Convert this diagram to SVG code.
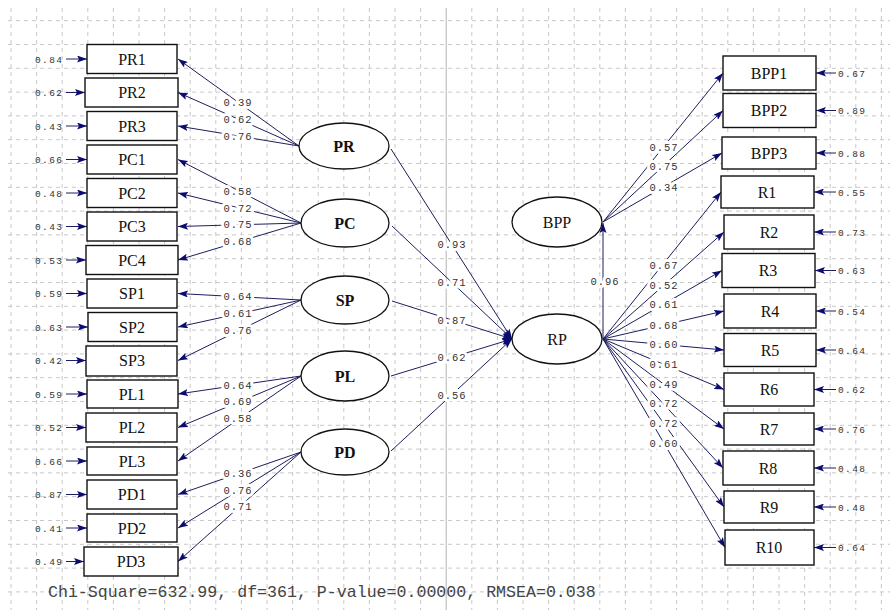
<svg xmlns="http://www.w3.org/2000/svg" width="894" height="613" viewBox="0 0 894 613">
<defs>
<marker id="ah" markerUnits="userSpaceOnUse" markerWidth="10" markerHeight="7" refX="10" refY="3.5" orient="auto">
<path d="M0,0 L10,3.5 L0,7 L2,3.5 z" fill="#0b0b70"/>
</marker>
<style>
.grid{fill:none;stroke:#c8c8c8;stroke-width:1;stroke-dasharray:4 4}
.axis{fill:none;stroke:#b4b4b4;stroke-width:1}
.box{fill:#fff;stroke:#111;stroke-width:1.4}
.lat{fill:#fff;stroke:#111;stroke-width:1.3}
.bt{font-family:"Liberation Serif","Times New Roman",serif;font-size:16px;fill:#111;text-anchor:middle}
.lt{font-family:"Liberation Serif","Times New Roman",serif;font-size:16px;fill:#111;text-anchor:middle}
.b{font-weight:bold}
.c{stroke:#1e1e5e;stroke-width:1;fill:none;marker-end:url(#ah)}
.v{font-family:"Liberation Mono","Courier New",monospace;font-size:10.5px;fill:#333;letter-spacing:1px;text-anchor:middle;stroke:#fff;stroke-width:6;paint-order:stroke;stroke-linejoin:round}
.e{font-family:"Liberation Mono","Courier New",monospace;font-size:9.5px;fill:#333;letter-spacing:1.4px}
.stat{font-family:"Liberation Mono","Courier New",monospace;font-size:16.6px;fill:#444}
</style>
</defs>
<rect width="894" height="613" fill="#fff"/>
<g id="grid">
<path class="grid" d="M8,20.7H890M8,44.5H890M8,68.3H890M8,92.1H890M8,115.9H890M8,139.7H890M8,163.5H890M8,187.3H890M8,211.1H890M8,234.9H890M8,258.7H890M8,282.5H890M8,306.3H890M8,330.1H890M8,353.9H890M8,377.7H890M8,401.5H890M8,425.3H890M8,449.1H890M8,472.9H890M8,496.7H890M8,520.5H890M8,544.3H890M8,568.1H890M8,591.9H890"/>
<path class="grid" d="M11,8V610M36.6,8V610M62.2,8V610M87.8,8V610M113.4,8V610M139,8V610M164.6,8V610M190.2,8V610M215.8,8V610M241.4,8V610M267,8V610M292.6,8V610M318.2,8V610M343.8,8V610M369.4,8V610M395,8V610M420.6,8V610M471.8,8V610M497.4,8V610M523,8V610M548.6,8V610M574.2,8V610M599.8,8V610M625.4,8V610M651,8V610M676.6,8V610M702.2,8V610M727.8,8V610M753.4,8V610M779,8V610M804.6,8V610M830.2,8V610M855.8,8V610M881.4,8V610"/>
<path class="axis" d="M446.2,8V610"/>
</g>
<g id="connectors">
<line class="c" x1="66" y1="59" x2="87" y2="59"/>
<line class="c" x1="66" y1="92.5" x2="85" y2="92.5"/>
<line class="c" x1="66" y1="126" x2="87" y2="126"/>
<line class="c" x1="66" y1="159.5" x2="87" y2="159.5"/>
<line class="c" x1="66" y1="193" x2="87" y2="193"/>
<line class="c" x1="66" y1="226.5" x2="87" y2="226.5"/>
<line class="c" x1="66" y1="260" x2="86" y2="260"/>
<line class="c" x1="66" y1="293.5" x2="87" y2="293.5"/>
<line class="c" x1="66" y1="327" x2="88" y2="327"/>
<line class="c" x1="66" y1="360.5" x2="86" y2="360.5"/>
<line class="c" x1="66" y1="394" x2="87" y2="394"/>
<line class="c" x1="66" y1="427.5" x2="86" y2="427.5"/>
<line class="c" x1="66" y1="461" x2="87" y2="461"/>
<line class="c" x1="66" y1="494.5" x2="87" y2="494.5"/>
<line class="c" x1="66" y1="528" x2="87" y2="528"/>
<line class="c" x1="66" y1="561.5" x2="84" y2="561.5"/>
<line class="c" x1="836" y1="73" x2="816" y2="73"/>
<line class="c" x1="836" y1="110.5" x2="816" y2="110.5"/>
<line class="c" x1="836" y1="153" x2="816" y2="153"/>
<line class="c" x1="836" y1="192" x2="814" y2="192"/>
<line class="c" x1="836" y1="232" x2="814" y2="232"/>
<line class="c" x1="836" y1="270.5" x2="815" y2="270.5"/>
<line class="c" x1="836" y1="311" x2="816" y2="311"/>
<line class="c" x1="836" y1="350" x2="816" y2="350"/>
<line class="c" x1="836" y1="389.5" x2="814" y2="389.5"/>
<line class="c" x1="836" y1="429" x2="814" y2="429"/>
<line class="c" x1="836" y1="468" x2="814" y2="468"/>
<line class="c" x1="836" y1="507" x2="814" y2="507"/>
<line class="c" x1="836" y1="547.5" x2="814" y2="547.5"/>
<line class="c" x1="299" y1="146" x2="178" y2="59"/>
<line class="c" x1="299" y1="146" x2="178" y2="92.5"/>
<line class="c" x1="299" y1="146" x2="178" y2="126"/>
<line class="c" x1="301" y1="223" x2="178" y2="159.5"/>
<line class="c" x1="301" y1="223" x2="178" y2="193"/>
<line class="c" x1="301" y1="223" x2="178" y2="226.5"/>
<line class="c" x1="301" y1="223" x2="178" y2="260"/>
<line class="c" x1="301" y1="300" x2="178" y2="293.5"/>
<line class="c" x1="301" y1="300" x2="178" y2="327"/>
<line class="c" x1="301" y1="300" x2="178" y2="360.5"/>
<line class="c" x1="301" y1="376" x2="178" y2="394"/>
<line class="c" x1="301" y1="376" x2="178" y2="427.5"/>
<line class="c" x1="301" y1="376" x2="178" y2="461"/>
<line class="c" x1="301" y1="452" x2="178" y2="494.5"/>
<line class="c" x1="301" y1="452" x2="178" y2="528"/>
<line class="c" x1="301" y1="452" x2="178" y2="561.5"/>
<line class="c" x1="391" y1="149" x2="512" y2="339"/>
<line class="c" x1="392" y1="226" x2="512" y2="339"/>
<line class="c" x1="392" y1="301" x2="512" y2="339"/>
<line class="c" x1="391" y1="376" x2="512" y2="339"/>
<line class="c" x1="391" y1="451" x2="512" y2="339"/>
<line class="c" x1="603" y1="339" x2="603" y2="223"/>
<line class="c" x1="603" y1="222" x2="723" y2="73"/>
<line class="c" x1="603" y1="222" x2="723" y2="110.5"/>
<line class="c" x1="603" y1="222" x2="722" y2="153"/>
<line class="c" x1="603" y1="339" x2="721" y2="192"/>
<line class="c" x1="603" y1="339" x2="724" y2="232"/>
<line class="c" x1="603" y1="339" x2="722" y2="270.5"/>
<line class="c" x1="603" y1="339" x2="724" y2="311"/>
<line class="c" x1="603" y1="339" x2="724" y2="350"/>
<line class="c" x1="603" y1="339" x2="724" y2="389.5"/>
<line class="c" x1="603" y1="339" x2="724" y2="429"/>
<line class="c" x1="603" y1="339" x2="723" y2="468"/>
<line class="c" x1="603" y1="339" x2="724" y2="507"/>
<line class="c" x1="603" y1="339" x2="725" y2="547.5"/>
<text class="v" x="238" y="106">0.39</text>
<text class="v" x="238" y="122.7">0.62</text>
<text class="v" x="238" y="139.5">0.76</text>
<text class="v" x="238" y="194.7">0.58</text>
<text class="v" x="238" y="211.5">0.72</text>
<text class="v" x="238" y="228.2">0.75</text>
<text class="v" x="238" y="245">0.68</text>
<text class="v" x="238" y="300.2">0.64</text>
<text class="v" x="238" y="317">0.61</text>
<text class="v" x="238" y="333.7">0.76</text>
<text class="v" x="238" y="388.5">0.64</text>
<text class="v" x="238" y="405.2">0.69</text>
<text class="v" x="238" y="422">0.58</text>
<text class="v" x="238" y="476.7">0.36</text>
<text class="v" x="238" y="493.5">0.76</text>
<text class="v" x="238" y="510.2">0.71</text>
<text class="v" x="452" y="247.5">0.93</text>
<text class="v" x="452" y="286">0.71</text>
<text class="v" x="452" y="323.5">0.87</text>
<text class="v" x="452" y="361">0.62</text>
<text class="v" x="452" y="398.5">0.56</text>
<text class="v" x="605" y="284.5">0.96</text>
<text class="v" x="664" y="151">0.57</text>
<text class="v" x="664" y="169.5">0.75</text>
<text class="v" x="664" y="191">0.34</text>
<text class="v" x="664" y="269">0.67</text>
<text class="v" x="664" y="289">0.52</text>
<text class="v" x="664" y="308.2">0.61</text>
<text class="v" x="664" y="328.5">0.68</text>
<text class="v" x="664" y="348">0.60</text>
<text class="v" x="664" y="367.7">0.61</text>
<text class="v" x="664" y="387.5">0.49</text>
<text class="v" x="664" y="407">0.72</text>
<text class="v" x="664" y="426.5">0.72</text>
<text class="v" x="664" y="446.7">0.60</text>
</g>
<g id="errors">
<text class="e" x="35" y="62.5">0.84</text>
<text class="e" x="35" y="96">0.62</text>
<text class="e" x="35" y="129.5">0.43</text>
<text class="e" x="35" y="163">0.66</text>
<text class="e" x="35" y="196.5">0.48</text>
<text class="e" x="35" y="230">0.43</text>
<text class="e" x="35" y="263.5">0.53</text>
<text class="e" x="35" y="297">0.59</text>
<text class="e" x="35" y="330.5">0.63</text>
<text class="e" x="35" y="364">0.42</text>
<text class="e" x="35" y="397.5">0.59</text>
<text class="e" x="35" y="431">0.52</text>
<text class="e" x="35" y="464.5">0.66</text>
<text class="e" x="35" y="498">0.87</text>
<text class="e" x="35" y="531.5">0.41</text>
<text class="e" x="35" y="565">0.49</text>
<text class="e" x="838" y="76.5">0.67</text>
<text class="e" x="838" y="114">0.89</text>
<text class="e" x="838" y="156.5">0.88</text>
<text class="e" x="838" y="195.5">0.55</text>
<text class="e" x="838" y="235.5">0.73</text>
<text class="e" x="838" y="274">0.63</text>
<text class="e" x="838" y="314.5">0.54</text>
<text class="e" x="838" y="353.5">0.64</text>
<text class="e" x="838" y="393">0.62</text>
<text class="e" x="838" y="432.5">0.76</text>
<text class="e" x="838" y="471.5">0.48</text>
<text class="e" x="838" y="510.5">0.48</text>
<text class="e" x="838" y="551">0.64</text>
</g>
<g id="PR1"><rect class="box" x="87" y="44.5" width="90" height="29"/><text class="bt" x="132" y="64.5">PR1</text></g>
<g id="PR2"><rect class="box" x="85" y="78" width="93" height="29"/><text class="bt" x="132" y="98">PR2</text></g>
<g id="PR3"><rect class="box" x="87" y="111.5" width="90" height="29"/><text class="bt" x="132" y="131.5">PR3</text></g>
<g id="PC1"><rect class="box" x="87" y="145" width="90" height="29"/><text class="bt" x="132" y="165">PC1</text></g>
<g id="PC2"><rect class="box" x="87" y="178.5" width="90" height="29"/><text class="bt" x="132" y="198.5">PC2</text></g>
<g id="PC3"><rect class="box" x="87" y="212" width="90" height="29"/><text class="bt" x="132" y="232">PC3</text></g>
<g id="PC4"><rect class="box" x="86" y="245.5" width="92" height="29"/><text class="bt" x="132" y="265.5">PC4</text></g>
<g id="SP1"><rect class="box" x="87" y="279" width="90" height="29"/><text class="bt" x="132" y="299">SP1</text></g>
<g id="SP2"><rect class="box" x="88" y="312.5" width="89" height="29"/><text class="bt" x="132" y="332.5">SP2</text></g>
<g id="SP3"><rect class="box" x="86" y="346" width="91" height="30"/><text class="bt" x="132" y="366">SP3</text></g>
<g id="PL1"><rect class="box" x="87" y="380" width="91" height="28"/><text class="bt" x="132" y="399.5">PL1</text></g>
<g id="PL2"><rect class="box" x="86" y="413" width="91" height="29"/><text class="bt" x="132" y="433">PL2</text></g>
<g id="PL3"><rect class="box" x="87" y="447" width="90" height="28"/><text class="bt" x="132" y="466.5">PL3</text></g>
<g id="PD1"><rect class="box" x="87" y="480" width="90" height="29"/><text class="bt" x="132" y="500">PD1</text></g>
<g id="PD2"><rect class="box" x="87" y="514" width="90" height="28"/><text class="bt" x="132" y="533.5">PD2</text></g>
<g id="PD3"><rect class="box" x="84" y="547" width="94" height="29"/><text class="bt" x="131" y="567">PD3</text></g>
<g id="BPP1"><rect class="box" x="723" y="56" width="93" height="34"/><text class="bt" x="769" y="78.5">BPP1</text></g>
<g id="BPP2"><rect class="box" x="723" y="93.5" width="93" height="34"/><text class="bt" x="769" y="116">BPP2</text></g>
<g id="BPP3"><rect class="box" x="722" y="137" width="94" height="32"/><text class="bt" x="769" y="158.5">BPP3</text></g>
<g id="R1"><rect class="box" x="721" y="176" width="93" height="32"/><text class="bt" x="767" y="197.5">R1</text></g>
<g id="R2"><rect class="box" x="724" y="215" width="90" height="34"/><text class="bt" x="769" y="237.5">R2</text></g>
<g id="R3"><rect class="box" x="722" y="253.5" width="93" height="34"/><text class="bt" x="768" y="276">R3</text></g>
<g id="R4"><rect class="box" x="724" y="294" width="92" height="34"/><text class="bt" x="770" y="316.5">R4</text></g>
<g id="R5"><rect class="box" x="724" y="333.5" width="92" height="33"/><text class="bt" x="770" y="355.5">R5</text></g>
<g id="R6"><rect class="box" x="724" y="373" width="90" height="33"/><text class="bt" x="769" y="395">R6</text></g>
<g id="R7"><rect class="box" x="724" y="413" width="90" height="32"/><text class="bt" x="769" y="434.5">R7</text></g>
<g id="R8"><rect class="box" x="723" y="451" width="91" height="34"/><text class="bt" x="768" y="473.5">R8</text></g>
<g id="R9"><rect class="box" x="724" y="491" width="90" height="32"/><text class="bt" x="769" y="512.5">R9</text></g>
<g id="R10"><rect class="box" x="725" y="530" width="89" height="35"/><text class="bt" x="769" y="553">R10</text></g>
<g id="PR"><ellipse class="lat" cx="344" cy="146" rx="45" ry="23"/><text class="lt b" x="344" y="151.5">PR</text></g>
<g id="PC"><ellipse class="lat" cx="345" cy="223" rx="44" ry="24"/><text class="lt b" x="345" y="228.5">PC</text></g>
<g id="SP"><ellipse class="lat" cx="345" cy="300" rx="44" ry="24"/><text class="lt b" x="345" y="305.5">SP</text></g>
<g id="PL"><ellipse class="lat" cx="345" cy="376" rx="44" ry="25"/><text class="lt b" x="345" y="381.5">PL</text></g>
<g id="PD"><ellipse class="lat" cx="345" cy="452" rx="44" ry="23"/><text class="lt b" x="345" y="457.5" fill="#555">PD</text></g>
<g id="BPP"><ellipse class="lat" cx="557" cy="222" rx="45" ry="25"/><text class="lt" x="557" y="227.5">BPP</text></g>
<g id="RP"><ellipse class="lat" cx="557" cy="339" rx="45" ry="25"/><text class="lt" x="557" y="344.5">RP</text></g>
<text class="stat" x="48" y="597">Chi-Square=632.99, df=361, P-value=0.00000, RMSEA=0.038</text>
</svg>
